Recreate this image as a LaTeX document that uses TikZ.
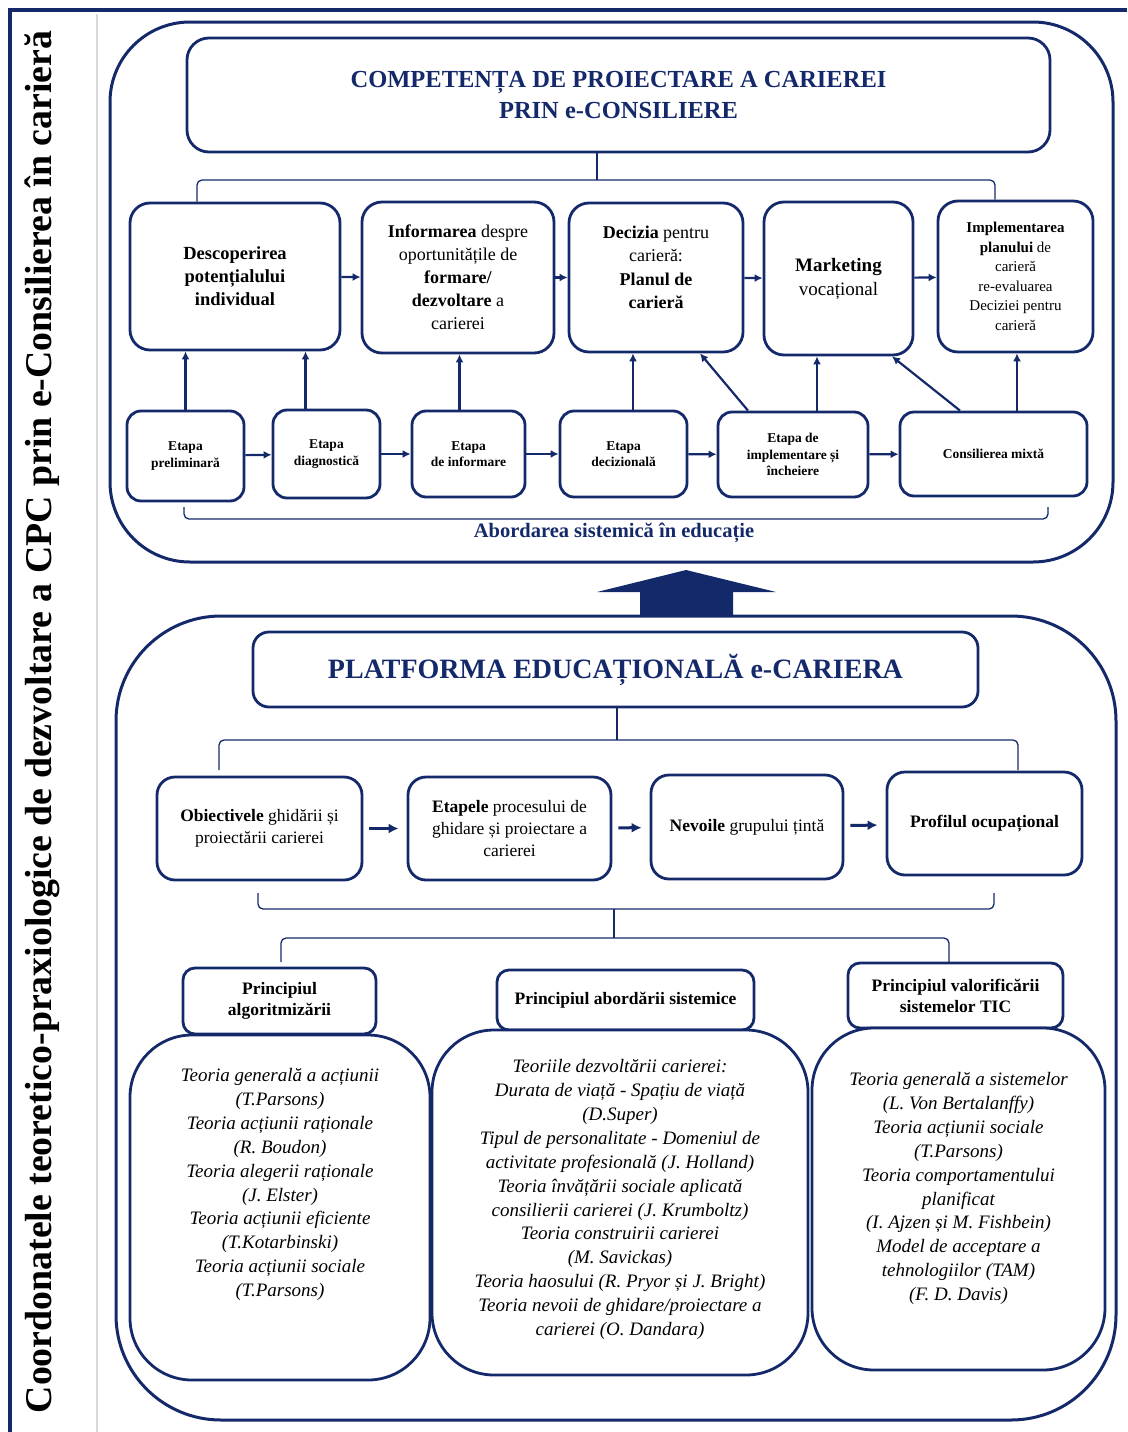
\documentclass[tikz,border=0pt]{standalone}
\usepackage{fontspec}
\setmainfont{Liberation Serif}
\usetikzlibrary{arrows.meta}
\definecolor{cpcblue}{HTML}{14296A}
\newcommand{\fsz}[2]{\fontsize{#1}{#2}\selectfont}

\begin{document}
\begin{tikzpicture}[x=1pt, y=-1pt, thick,
	contbox/.style={draw=cpcblue, line width=3pt, rounded corners=#1},
	rbox/.style={draw=cpcblue, fill=white, line width=2.8pt, rounded corners=20pt, align=center, inner sep=3pt},
	stagebox/.style={rbox, rounded corners=14pt, font=\fsz{13.5}{16.5}\bfseries},
	princbox/.style={rbox, rounded corners=12pt, font=\fsz{17.5}{21}\bfseries},
	theorybox/.style={rbox, rounded corners=62pt},
	itxt/.style={align=center, font=\fsz{19}{23.9}\itshape},
	arr/.style={color=cpcblue, line width=2.2pt, -{Latex[length=8pt,width=8pt]}},
	bigarr/.style={color=cpcblue, line width=3pt, -{Latex[length=10pt,width=10pt]}},
	brk/.style={draw=cpcblue, line width=1.3pt, rounded corners=5pt}]
	
	\useasboundingbox (0,0) rectangle (1127,1432);
	\draw[cpcblue, line width=4pt] (10,1432) -- (10,10) -- (1127,10);
	\draw[black!15, line width=2pt] (97,14) -- (97,1432);
	\node[rotate=90, font=\fsz{37.8}{40}\bfseries] (ttl) at (42,722) {Coordonatele teoretico-praxiologice de dezvoltare a CPC prin e-Consilierea în carieră};
	
	\node[contbox=80pt, minimum width=1003, minimum height=540] (top) at (611.5,292) {};
	\node[contbox=105pt, minimum width=1000, minimum height=804] (bottom) at (616,1018) {};
	\fill[cpcblue] (640,616) -- (640,592) -- (597,592) -- (686,570) -- (776,592) -- (733,592) -- (733,616) -- cycle;
	
	\node[rbox, rounded corners=22pt, minimum width=863, minimum height=114, text=cpcblue, font=\fsz{24.5}{31}\bfseries] (t1) at (618.5,95) {COMPETENȚA DE PROIECTARE A CARIEREI\\PRIN e-CONSILIERE};
	
	\node[rbox, minimum width=210, minimum height=147, font=\fsz{18.5}{23}\bfseries] (d1) at (235,276.5) {Descoperirea\\potențialului\\individual};
	\node[rbox, minimum width=192, minimum height=151, font=\fsz{18}{23}] (d2) at (458,277.5) {\textbf{Informarea} despre\\oportunitățile de\\\textbf{formare/}\\\textbf{dezvoltare} a\\carierei};
	\node[rbox, minimum width=174, minimum height=149] (d3) at (656,277.5) {};
	\node[align=center, font=\fsz{18}{23.5}] (d3txt) at ([yshift=10]d3.center) {\textbf{Decizia} pentru\\carieră:\\\textbf{Planul de}\\\textbf{carieră}};
	\node[rbox, minimum width=149, minimum height=153, font=\fsz{19}{24}] (d4) at (838.5,278.5) {\textbf{Marketing}\\vocațional};
	\node[rbox, minimum width=155, minimum height=151, font=\fsz{15}{19.5}] (d5) at (1015.5,276.5) {\textbf{Implementarea}\\\textbf{planului} de\\carieră\\re-evaluarea\\Deciziei pentru\\carieră};
	
	\node[stagebox, minimum width=117, minimum height=90] (s1) at (185.5,456) {Etapa\\preliminară};
	\node[stagebox, minimum width=107, minimum height=88] (s2) at (326.5,454) {Etapa\\diagnostică};
	\node[stagebox, minimum width=113, minimum height=86] (s3) at (468.5,454) {Etapa\\de informare};
	\node[stagebox, minimum width=127, minimum height=86] (s4) at (623.5,454) {Etapa\\decizională};
	\node[stagebox, minimum width=150, minimum height=85] (s5) at (793,454.5) {Etapa de\\implementare și\\încheiere};
	\node[stagebox, minimum width=187, minimum height=84] (s6) at (993.5,454) {Consilierea mixtă};
	
	\coordinate (j1) at (597,180);
	\coordinate (j1l) at (197,180);
	\coordinate (j1r) at (995,180);
	\draw[brk] (j1l |- d1.north) -- (j1l) -- (j1r) -- (j1r |- d5.north);
	\draw[brk] (j1) -- (j1 |- t1.south);
	
	\coordinate (j2l) at (184,519);
	\coordinate (j2r) at (1048,519);
	\draw[brk] ([yshift=12]j2l) -- (j2l) -- (j2r) -- ([yshift=12]j2r);
	\node[text=cpcblue, font=\fsz{20.5}{24}\bfseries] (abord) at (614,533) {Abordarea sistemică în educație};
	
	\path[arr]
		(d1) edge (d2)
		(d2) edge (d3)
		(d3) edge (d4)
		(d4) edge (d5)
		(s1) edge (s2)
		(s2) edge (s3)
		(s3) edge (s4)
		(s4) edge (s5)
		(s5) edge (s6)
		(s1.north) edge (s1.north |- d1.south)
		([xshift=-21]s2.north) edge ([xshift=-21]s2.north |- d1.south)
		([xshift=-9]s3.north) edge ([xshift=-9]s3.north |- d2.south)
		([xshift=9.5]s4.north) edge ([xshift=9.5]s4.north |- d3.south)
		([xshift=-45]s5.north) edge ([xshift=44]d3.south)
		([xshift=24]s5.north) edge ([xshift=24]s5.north |- d4.south)
		([xshift=-33.5]s6.north) edge ([xshift=53.5]d4.south)
		([xshift=23.5]s6.north) edge ([xshift=23.5]s6.north |- d5.south);
	
	\node[rbox, rounded corners=16pt, minimum width=725, minimum height=75, text=cpcblue, font=\fsz{28}{32}\bfseries] (t2) at (615.5,669.5) {PLATFORMA EDUCAȚIONALĂ e-CARIERA};
	
	\node[rbox, rounded corners=18pt, minimum width=205, minimum height=103, font=\fsz{17.5}{22}] (e1) at (259.5,828.5) {\textbf{Obiectivele} ghidării și\\proiectării carierei};
	\node[rbox, rounded corners=18pt, minimum width=203, minimum height=103, font=\fsz{17.5}{22}] (e2) at (509.5,828.5) {\textbf{Etapele} procesului de\\ghidare și proiectare a\\carierei};
	\node[rbox, rounded corners=18pt, minimum width=192, minimum height=104, font=\fsz{17.5}{22}] (e3) at (747,827) {\textbf{Nevoile} grupului țintă};
	\node[rbox, rounded corners=18pt, minimum width=195, minimum height=103, font=\fsz{17.5}{22}] (e4) at (984.5,823.5) {\textbf{Profilul ocupațional}};
	
	\path[bigarr, shorten <=6pt, shorten >=8pt]
		(e1) edge (e2)
		(e2) edge (e3)
		(e3) edge (e4);
	
	\coordinate (j3) at (617,740);
	\coordinate (j3l) at (219,740);
	\coordinate (j3r) at (1018,740);
	\draw[brk] ([yshift=-30]j3l) -- (j3l) -- (j3r) -- ([yshift=-30]j3r);
	\draw[brk] (j3) -- (j3 |- t2.south);
	
	\coordinate (j4) at (614,909);
	\coordinate (j4l) at (258,909);
	\coordinate (j4r) at (994,909);
	\coordinate (j5) at (614,938);
	\coordinate (j5l) at (281,938);
	\coordinate (j5r) at (949,938);
	\draw[brk] ([yshift=16]j4l) -- (j4l) -- (j4r) -- ([yshift=16]j4r);
	\draw[brk] (j4) -- (j5);
	\draw[brk] ([yshift=-24]j5l) -- (j5l) -- (j5r) -- ([yshift=-24]j5r);
	
	\node[princbox, minimum width=193, minimum height=66] (p1) at (279.5,1001) {Principiul\\algoritmizării};
	\node[princbox, minimum width=257, minimum height=60] (p2) at (625.5,1000) {Principiul abordării sistemice};
	\node[princbox, minimum width=215, minimum height=65] (p3) at (955.5,995.5) {Principiul valorificării\\sistemelor TIC};
	
	\node[theorybox, minimum width=300, minimum height=345] (th1) at (280,1207.5) {};
	\node[theorybox, minimum width=376, minimum height=345] (th2) at (620,1202.5) {};
	\node[theorybox, minimum width=293, minimum height=342] (th3) at (958.5,1199) {};
	
	\node[itxt] (th1txt) at ([yshift=23]th1.center) {Teoria generală a acțiunii\\(T.Parsons)\\Teoria acțiunii raționale\\(R. Boudon)\\Teoria alegerii raționale\\(J. Elster)\\Teoria acțiunii eficiente\\(T.Kotarbinski)\\Teoria acțiunii sociale\\(T.Parsons)};
	\node[itxt] (th2txt) at ([yshift=3]th2.center) {Teoriile dezvoltării carierei:\\Durata de viață - Spațiu de viață\\(D.Super)\\Tipul de personalitate - Domeniul de\\activitate profesională (J. Holland)\\Teoria învățării sociale aplicată\\consilierii carierei (J. Krumboltz)\\Teoria construirii carierei\\(M. Savickas)\\Teoria haosului (R. Pryor și J. Bright)\\Teoria nevoii de ghidare/proiectare a\\carierei (O. Dandara)};
	\node[itxt] (th3txt) at ([yshift=10.5]th3.center) {Teoria generală a sistemelor\\(L. Von Bertalanffy)\\Teoria acțiunii sociale\\(T.Parsons)\\Teoria comportamentului\\planificat\\(I. Ajzen și M. Fishbein)\\Model de acceptare a\\tehnologiilor (TAM)\\(F. D. Davis)};
	
\end{tikzpicture}
\end{document}
